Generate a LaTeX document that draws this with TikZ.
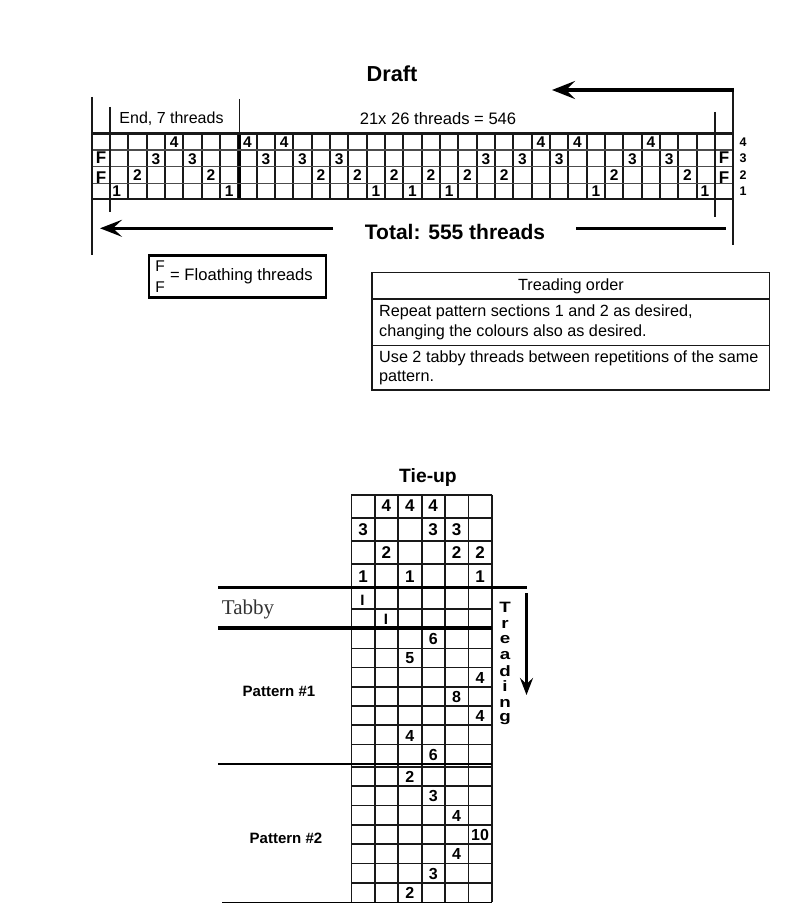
\documentclass[tikz,border=0pt]{standalone}
\usepackage{fontspec}
\setmainfont{Liberation Sans}
\newfontfamily\tabbyfont{Liberation Serif}
\usetikzlibrary{arrows.meta}
\newcommand{\fs}[1]{\fontsize{#1}{#1}\selectfont}
\tikzset{
 x=1pt,y=-1pt,
 txt/.style={inner sep=0pt,anchor=center,text=black},
 num/.style={txt,font=\fs{15.5}\bfseries},
 tnum/.style={txt,font=\fs{17}\bfseries},
 pnum/.style={txt,font=\fs{16}\bfseries},
 gridv/.style={line width=2.1pt,black!90},
 gridh/.style={line width=1.1pt,black!70},
 tiegrid/.style={line width=1.6pt,black!90},
 heavy/.style={line width=3.2pt,black},
 rule/.style={line width=1.3pt,black!90},
 bigarrow/.style={line width=4.4pt,-{Stealth[length=23pt,width=18pt,inset=9pt]}},
 midarrow/.style={line width=2.8pt,-{Stealth[length=22pt,width=17pt,inset=9pt]}},
 downarrow/.style={line width=3pt,-{Stealth[length=17pt,width=13pt,inset=6pt]}},
}
\begin{document}
\begin{tikzpicture}
\useasboundingbox (0,0) rectangle (800,917);
% Draft title and labels
\node[txt,font=\fs{21.7}\bfseries] (draft) at (392,74) {Draft};
\node[txt,font=\fs{16}] (endl) at (171.5,119) {End, 7 threads};
\node[txt,font=\fs{16.6}] (repl) at (438,119) {21x 26 threads = 546};
\node[txt,font=\fs{21}\bfseries] (total) at (455,232) {Total: 555 threads};
% Draft grid
\foreach \i in {0,...,33} {\draw[gridv] ({110+\i*18.333},133.5) -- ({110+\i*18.333},199);}
\draw[line width=2.8pt,black] (239.7,133.5) -- (239.7,199);
\foreach \y in {150,166.7,183.3} {\draw[gridh] (92,\y) -- (733,\y);}
\draw[line width=2.2pt,black!90] (92,133.5) rectangle (733,199);
% Long ticks
\coordinate (lt) at (92,97); \coordinate (lb) at (92,255);
\coordinate (ilt) at (110,107); \coordinate (ilb) at (110,212);
\coordinate (mt) at (239.7,99); \coordinate (mb) at (239.7,133);
\coordinate (irt) at (715,112); \coordinate (irb) at (715,217);
\coordinate (rt) at (733,88); \coordinate (rb) at (733,245);
\draw[rule] (lt) -- (lb);
\draw[rule] (ilt) -- (ilb);
\draw[rule] (mt) -- (mb);
\draw[rule] (irt) -- (irb);
\draw[rule] (rt) -- (rb);
% Arrows
\coordinate (tops) at (733.6,90); \coordinate (topend) at (552,90);
\draw[bigarrow] (tops) -- (topend);
\coordinate (la) at (333,228.3); \coordinate (lae) at (100,228.3);
\draw[midarrow] (la) -- (lae);
\coordinate (ra) at (576,228.3); \coordinate (rae) at (726,228.3);
\draw[line width=2.8pt] (ra) -- (rae);
% Draft numbers: col/row
\foreach \c/\r [count=\k] in {0/1,1/2,2/3,3/4,4/3,5/2,6/1,7/4,8/3,9/4,10/3,11/2,12/3,13/2,14/1,15/2,16/1,17/2,18/1,19/2,20/3,21/2,22/3,23/4,24/3,25/4,26/1,27/2,28/3,29/4,30/3,31/2,32/1}
 {\node[num] (d\k) at ({110+(\c+.5)*18.333-(\c==0)*2.5-(\c==32)*1},{199.8-(\r-.5)*16.4}) {\r};}
\node[txt,font=\fs{17}\bfseries] (fa) at (101,158) {F};
\node[txt,font=\fs{17}\bfseries] (fb) at (101,178) {F};
\node[txt,font=\fs{17}\bfseries] (fc) at (724,158) {F};
\node[txt,font=\fs{17}\bfseries] (fd) at (724,178) {F};
\foreach \r/\y in {4/142.5,3/158.5,2/175,1/191.5}
 {\node[txt,font=\fs{12.5}\bfseries] (s\r) at (743,\y) {\r};}
% Legend
\draw[line width=2.8pt,black] (149,255.5) rectangle (326,297.5);
\node[txt,font=\fs{15.5}] (lf1) at (160,266) {F};
\node[txt,font=\fs{15.5}] (lf2) at (160,287) {F};
\node[txt,font=\fs{16.6},anchor=west] (lf3) at (170,276) {= Floathing threads};
% Treading order table
\draw[line width=1.6pt,black!90] (372,272.5) rectangle (769.5,390);
\draw[line width=1.6pt,black!90] (372,299) -- (769.5,299);
\draw[line width=1.6pt,black!90] (372,345.5) -- (769.5,345.5);
\node[txt,font=\fs{16.2}] (to) at (571,286.5) {Treading order};
\node[txt,font=\fs{16.2},anchor=west] (t1) at (379,312.5) {Repeat pattern sections 1 and 2 as desired,};
\node[txt,font=\fs{16.2},anchor=west] (t2) at (379,332) {changing the colours also as desired.};
\node[txt,font=\fs{16.2},anchor=west] (t3) at (379,358.5) {Use 2 tabby threads between repetitions of the same};
\node[txt,font=\fs{16.2},anchor=west] (t4) at (379,378) {pattern.};
% Tie-up
\node[txt,font=\fs{19.3}\bfseries] (tie) at (428,478) {Tie-up};
\foreach \x in {351.3,374.7,398,421.7,445,468.3,491.7} {\draw[tiegrid] (\x,494.7) -- (\x,902);}
\foreach \y in {494.7,517.7,540.7,564,609,648.3,667.3,686.7,706,725,744.3,766.7,786,805.3,824.7,844,863.3,882.7} {\draw[tiegrid] (351.3,\y) -- (491.7,\y);}
\draw[line width=1.6pt,black] (218,764) -- (491.7,764);
\draw[line width=1.6pt,black] (222,902.5) -- (491.7,902.5);
\coordinate (h1a) at (218,587.5); \coordinate (h1b) at (527,587.5);
\coordinate (h2a) at (218,628); \coordinate (h2b) at (491.7,628);
\draw[heavy] (h1a) -- (h1b);
\draw[heavy] (h2a) -- (h2b);
% Tie-up numbers
\foreach \c/\y/\n [count=\k] in {1/506/4,2/506/4,3/506/4,0/530/3,3/530/3,4/530/3,1/553/2,4/553/2,5/553/2,0/576.5/1,2/576.5/1,5/576.5/1}
 {\node[tnum] (u\k) at ({363+\c*23.4},\y) {\n};}
\foreach \c/\y/\n [count=\k] in {3/639/6,2/658.5/5,5/678/4,4/697/8,5/716/4,2/735.5/4,3/754.5/6,2/777/2,3/796/3,4/815.5/4,5/835/10,4/854/4,3/873.5/3,2/892.5/2}
 {\node[pnum] (p\k) at ({363+\c*23.4},\y) {\n};}
\node[txt,font=\fs{15}\bfseries] (i1) at (362.5,600) {I};
\node[txt,font=\fs{15}\bfseries] (i2) at (386,619) {I};
\node[txt,font=\fs{21},text=black!80] (tabby) at (248,609) {\tabbyfont Tabby};
\node[txt,font=\fs{15}\bfseries] (pa) at (279,691) {Pattern \#1};
\node[txt,font=\fs{15}\bfseries] (pb) at (286,838) {Pattern \#2};
\foreach \l/\y [count=\k] in {T/607,r/624,e/640,a/656,d/671,i/686,n/703,g/719}
 {\node[txt,font=\fs{15}\bfseries,xscale=1.25] (tr\k) at (505,\y) {\l};}
\coordinate (ta) at (526.5,593); \coordinate (tb) at (526.5,695);
\draw[downarrow] (ta) -- (tb);
\end{tikzpicture}
\end{document}
